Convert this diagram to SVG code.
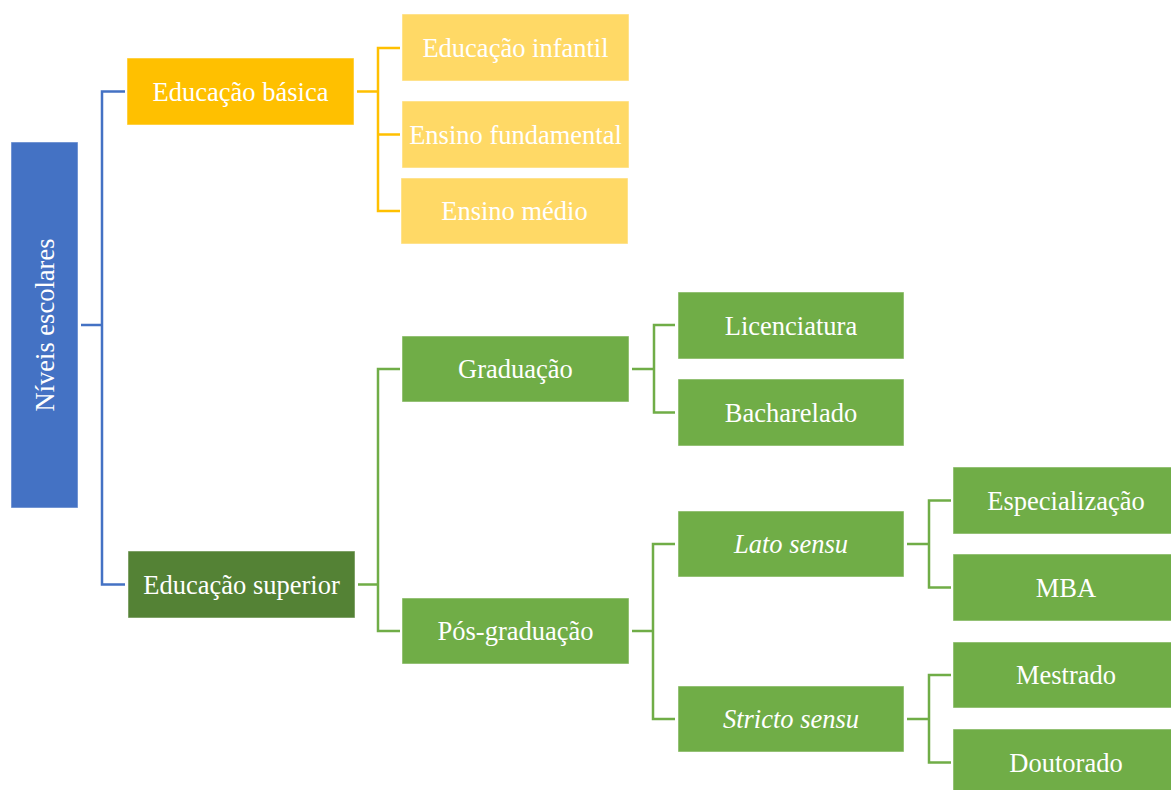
<svg xmlns="http://www.w3.org/2000/svg" width="1171" height="790" viewBox="0 0 1171 790">
  <style>
    .box { stroke: #ffffff; stroke-opacity: 0.5; stroke-width: 1; }
    .root { fill: #4472C4; }
    .basic { fill: #FFC000; }
    .basic-sub { fill: #FFD966; }
    .sup { fill: #548235; }
    .green { fill: #70AD47; }
    text { font-family: "Liberation Serif", "Times New Roman", serif; font-size: 26.5px; fill: #ffffff; text-anchor: middle; }
    .it { font-style: italic; }
    .link { fill: none; stroke-width: 2.5; }
    .blue { stroke: #4472C4; }
    .yellow { stroke: #FFC000; }
    .gline { stroke: #70AD47; }
  </style>
  <rect width="1171" height="790" fill="#ffffff"/>

  <!-- connectors -->
  <g id="connectors">
    <path class="link blue" d="M81,325 H102 M125,91.5 H102 V584.5 H125"/>
    <path class="link yellow" d="M357,91.5 H378 M400,48 H378 V211 H400 M378,134.5 H400"/>
    <path class="link gline" d="M358,584.5 H378 M400,369 H378 V631 H400"/>
    <path class="link gline" d="M632,369 H654 M675,325 H654 V412.5 H675"/>
    <path class="link gline" d="M632,631 H653 M675,544 H653 V719 H675"/>
    <path class="link gline" d="M907,544 H929 M951,500.5 H929 V587.5 H951"/>
    <path class="link gline" d="M907,719 H929 M951,675 H929 V762.5 H951"/>
  </g>

  <!-- nodes -->
  <g id="niveis-escolares">
    <rect class="box root" x="11" y="142" width="67" height="366"/>
    <text transform="translate(53.5,325) rotate(-90)" x="0" y="0">Níveis escolares</text>
  </g>
  <g id="educacao-basica">
    <rect class="box basic" x="127" y="58" width="227" height="67"/>
    <text x="240.5" y="100.5">Educação básica</text>
  </g>
  <g id="educacao-infantil">
    <rect class="box basic-sub" x="402" y="14" width="227" height="67"/>
    <text x="515.5" y="56.5">Educação infantil</text>
  </g>
  <g id="ensino-fundamental">
    <rect class="box basic-sub" x="402" y="101" width="227" height="67"/>
    <text x="515.5" y="143.5">Ensino fundamental</text>
  </g>
  <g id="ensino-medio">
    <rect class="box basic-sub" x="401" y="178" width="227" height="66"/>
    <text x="514.5" y="220">Ensino médio</text>
  </g>
  <g id="educacao-superior">
    <rect class="box sup" x="128" y="551" width="227" height="67"/>
    <text x="241.5" y="593.5">Educação superior</text>
  </g>
  <g id="graduacao">
    <rect class="box green" x="402" y="336" width="227" height="66"/>
    <text x="515.5" y="378">Graduação</text>
  </g>
  <g id="pos-graduacao">
    <rect class="box green" x="402" y="598" width="227" height="66"/>
    <text x="515.5" y="640">Pós-graduação</text>
  </g>
  <g id="licenciatura">
    <rect class="box green" x="678" y="292" width="226" height="67"/>
    <text x="791" y="334.5">Licenciatura</text>
  </g>
  <g id="bacharelado">
    <rect class="box green" x="678" y="379" width="226" height="67"/>
    <text x="791" y="421.5">Bacharelado</text>
  </g>
  <g id="lato-sensu">
    <rect class="box green" x="678" y="511" width="226" height="66"/>
    <text class="it" x="791" y="553">Lato sensu</text>
  </g>
  <g id="stricto-sensu">
    <rect class="box green" x="678" y="686" width="226" height="66"/>
    <text class="it" x="791" y="728">Stricto sensu</text>
  </g>
  <g id="especializacao">
    <rect class="box green" x="953" y="467" width="226" height="67"/>
    <text x="1066" y="509.5">Especialização</text>
  </g>
  <g id="mba">
    <rect class="box green" x="953" y="554" width="226" height="67"/>
    <text x="1066" y="596.5">MBA</text>
  </g>
  <g id="mestrado">
    <rect class="box green" x="953" y="642" width="226" height="66"/>
    <text x="1066" y="684">Mestrado</text>
  </g>
  <g id="doutorado">
    <rect class="box green" x="953" y="729" width="226" height="67"/>
    <text x="1066" y="771.5">Doutorado</text>
  </g>
</svg>
